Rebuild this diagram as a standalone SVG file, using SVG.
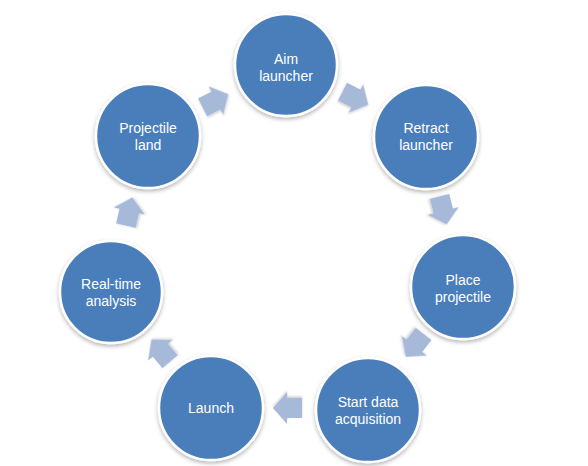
<svg xmlns="http://www.w3.org/2000/svg" width="588" height="466" viewBox="0 0 588 466">
  <defs>
    <filter id="sh" x="-20%" y="-20%" width="140%" height="150%">
      <feDropShadow dx="0" dy="2" stdDeviation="2" flood-color="#000" flood-opacity="0.3"/>
    </filter>
    <filter id="ash" x="-30%" y="-30%" width="160%" height="160%">
      <feDropShadow dx="0" dy="1.5" stdDeviation="1.2" flood-color="#000" flood-opacity="0.2"/>
    </filter>
    <path id="arr" d="M-14,-10 H1 V-16 L15,0 L1,16 V10 H-14 Z"/>
  </defs>
  <style>
    .node circle { fill: #4a7ebb; stroke: #ffffff; stroke-width: 2.5; filter: url(#sh); }
    .node text { fill: #ffffff; font-family: "Liberation Sans", Arial, sans-serif; font-size: 14px; text-anchor: middle; }
    .conn use { fill: #a7b9d8; filter: url(#ash); }
  </style>
  <rect width="588" height="466" fill="#ffffff"/>
  <g id="connectors" class="conn">
    <use href="#arr" transform="translate(215,101) rotate(-27)"/>
    <use href="#arr" transform="translate(355,98) rotate(27)"/>
    <use href="#arr" transform="translate(443,210) rotate(76)"/>
    <use href="#arr" transform="translate(415,345) rotate(128)"/>
    <use href="#arr" transform="translate(288,408) rotate(180)"/>
    <use href="#arr" transform="translate(161,351) rotate(230)"/>
    <use href="#arr" transform="translate(129,212) rotate(-77)"/>
  </g>
  <g id="aim" class="node">
    <circle cx="286" cy="65" r="51"/>
    <text x="286" y="64">Aim</text>
    <text x="286" y="81">launcher</text>
  </g>
  <g id="retract" class="node">
    <circle cx="426" cy="137" r="52"/>
    <text x="426" y="133">Retract</text>
    <text x="426" y="150">launcher</text>
  </g>
  <g id="place" class="node">
    <circle cx="463" cy="287" r="52"/>
    <text x="463" y="285">Place</text>
    <text x="463" y="302">projectile</text>
  </g>
  <g id="start" class="node">
    <circle cx="368" cy="410" r="52"/>
    <text x="368" y="407">Start data</text>
    <text x="368" y="424">acquisition</text>
  </g>
  <g id="launch" class="node">
    <circle cx="211" cy="408" r="52"/>
    <text x="211" y="413">Launch</text>
  </g>
  <g id="realtime" class="node">
    <circle cx="111" cy="292" r="51"/>
    <text x="111" y="289">Real-time</text>
    <text x="111" y="306">analysis</text>
  </g>
  <g id="land" class="node">
    <circle cx="148" cy="136" r="52"/>
    <text x="148" y="133">Projectile</text>
    <text x="148" y="150">land</text>
  </g>
</svg>
